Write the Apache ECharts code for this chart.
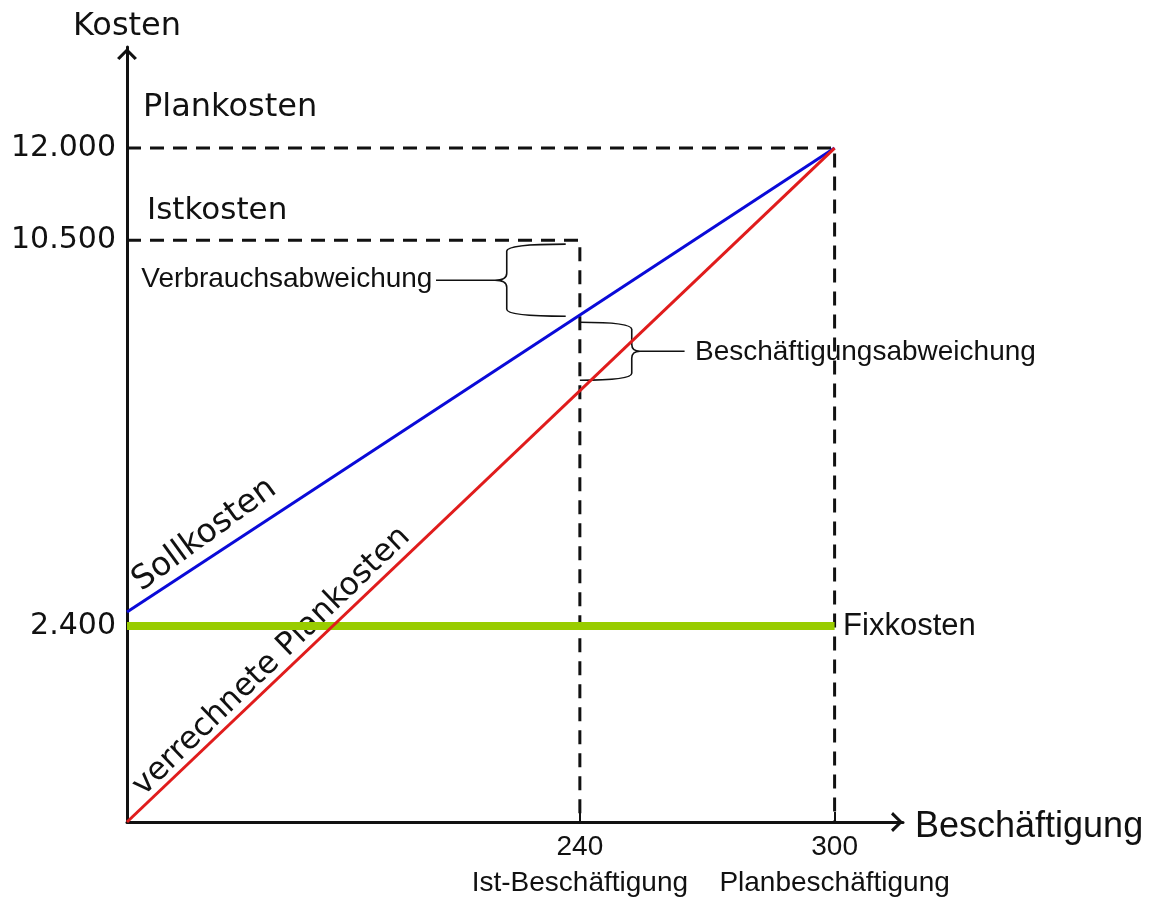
<!DOCTYPE html>
<html>
<head>
<meta charset="utf-8">
<title>Plankostenrechnung</title>
<script src="https://cdn.jsdelivr.net/npm/echarts@6/dist/echarts.min.js"></script>
<style>
html, body { margin: 0; padding: 0; background: #fff; }
#main { width: 1152px; height: 897px; }
</style>
</head>
<body>
<div id="main"></div>
<script>
// Skizze, nicht maßstäblich: Werte in Zeichnungseinheiten abgelesen
// (300 = Planbeschäftigung, 12000 = Plankosten), Beschriftung separat
var xTicks = [192, 300];
var xTickLabels = ['240', '300'];
var xTickNames = ['Ist-Beschäftigung', 'Planbeschäftigung'];
var yTicks = [3490, 10360, 12000];
var yTickLabels = ['2.400', '10.500', '12.000'];

var lineX = [0, 300];
var sollkosten = [3740, 12000];
var verrechnet = [0, 12000];
var fixkosten = [3490, 3490];

var planX = [0, 300, 300];
var planY = [12000, 12000, 0];
var istX = [0, 192, 192];
var istY = [10360, 10360, 0];

// Klammern: Armende, Rücken, Spitze, Linienende, oben, unten
var braces = [
	[186, 161, 156, 131, 10290, 9005],
	[192, 214, 217.5, 236.4, 8900, 7866]
];

function pairs(xs, ys) {
	return xs.map(function (x, i) { return [x, ys[i]]; });
}

var ink = '#111';
var chevron = 'path://M10,0 L20,10 L17.6,12 L10,4.2 L2.4,12 L0,10 Z';

var myChart = echarts.init(document.getElementById('main'));

var option = {
	animation: false,
	backgroundColor: '#fff',
	grid: { left: 127, right: 249, top: 47, bottom: 75, outerBoundsMode: 'none', containLabel: false },
	xAxis: {
		type: 'value',
		min: 0,
		max: 329,
		name: 'Beschäftigung',
		nameLocation: 'end',
		nameGap: 12,
		nameMoveOverlap: false,
		nameTextStyle: { fontFamily: 'Liberation Sans', fontSize: 36, color: ink, verticalAlign: 'top', lineHeight: 10 },
		splitLine: { show: false },
		axisLine: {
			lineStyle: { color: ink, width: 3 },
			symbol: ['none', chevron],
			symbolSize: [22, 12],
			symbolOffset: [0, -6]
		},
		axisTick: {
			customValues: xTicks,
			inside: true,
			length: 10,
			lineStyle: { color: ink, width: 2 }
		},
		axisLabel: {
			customValues: xTicks,
			margin: 7,
			formatter: function (v) {
				var i = xTicks.indexOf(v);
				return '{a|' + xTickLabels[i] + '}\n{a|' + xTickNames[i] + '}';
			},
			rich: {
				a: { fontFamily: 'Liberation Sans', fontSize: 28, lineHeight: 36, color: ink }
			}
		}
	},
	yAxis: {
		type: 'value',
		min: 0,
		max: 13800,
		name: 'Kosten',
		nameLocation: 'end',
		nameGap: 4,
		nameMoveOverlap: false,
		nameTextStyle: { fontFamily: 'DejaVu Sans', fontSize: 32, color: ink, align: 'center' },
		splitLine: { show: false },
		axisLine: {
			lineStyle: { color: ink, width: 3 },
			symbol: ['none', chevron],
			symbolSize: [20, 14],
			symbolOffset: [0, -7]
		},
		axisTick: { show: false },
		axisLabel: {
			customValues: yTicks,
			margin: 11,
			fontFamily: 'DejaVu Sans',
			fontSize: 30,
			color: ink,
			formatter: function (v) {
				return yTickLabels[yTicks.indexOf(v)];
			}
		}
	},
	series: [{
		type: 'line',
		silent: true,
		symbol: 'none',
		data: pairs(planX, planY),
		lineStyle: { color: ink, width: 3, type: [14, 9] }
	}, {
		type: 'line',
		silent: true,
		symbol: 'none',
		data: pairs(istX, istY),
		lineStyle: { color: ink, width: 3, type: [14, 9] }
	}, {
		type: 'line',
		silent: true,
		symbol: 'none',
		data: pairs(lineX, fixkosten),
		lineStyle: { color: '#99cc00', width: 8 }
	}, {
		type: 'line',
		silent: true,
		symbol: 'none',
		data: pairs(lineX, sollkosten),
		lineStyle: { color: '#0a0ad8', width: 3 }
	}, {
		type: 'line',
		silent: true,
		symbol: 'none',
		data: pairs(lineX, verrechnet),
		lineStyle: { color: '#e01c1c', width: 3 }
	}, {
		type: 'custom',
		silent: true,
		data: braces,
		renderItem: function (params, api) {
			var top = api.coord([api.value(0), api.value(4)]);
			var bot = api.coord([api.value(0), api.value(5)]);
			var s = api.coord([api.value(1), 0])[0];
			var t = api.coord([api.value(2), 0])[0];
			var l = api.coord([api.value(3), 0])[0];
			var ax = top[0], yt = top[1], yb = bot[1], ym = (yt + yb) / 2, r = 7;
			var d = 'M' + ax + ',' + yt +
				' Q' + s + ',' + yt + ' ' + s + ',' + (yt + r) +
				' L' + s + ',' + (ym - r) +
				' Q' + s + ',' + ym + ' ' + t + ',' + ym +
				' Q' + s + ',' + ym + ' ' + s + ',' + (ym + r) +
				' L' + s + ',' + (yb - r) +
				' Q' + s + ',' + yb + ' ' + ax + ',' + yb +
				' M' + t + ',' + ym + ' L' + l + ',' + ym;
			return {
				type: 'path',
				shape: { pathData: d },
				style: { stroke: ink, fill: 'none', lineWidth: 1.6 }
			};
		}
	}]
};

myChart.setOption(option);

// Beschriftungen an Achsenwerten festmachen
var notes = [
	{ text: 'Plankosten', at: [6.8, 12714], font: 'DejaVu Sans', size: 32, align: 'left', va: 'middle', rot: 0 },
	{ text: 'Istkosten', at: [8.5, 10880], font: 'DejaVu Sans', size: 31, align: 'left', va: 'middle', rot: 0 },
	{ text: 'Verbrauchsabweichung', at: [129.5, 9660], font: 'Liberation Sans', size: 28, align: 'right', va: 'middle', rot: 0 },
	{ text: 'Beschäftigungsabweichung', at: [240.8, 8369], font: 'Liberation Sans', size: 28, align: 'left', va: 'middle', rot: 0 },
	{ text: 'Fixkosten', at: [303.6, 3490], font: 'Liberation Sans', size: 31, align: 'left', va: 'middle', rot: 0 },
	{ text: 'Sollkosten', at: [8.0, 3990], font: 'DejaVu Sans', size: 33, align: 'left', va: 'bottom', rot: 36 },
	{ text: 'verrechnete Plankosten', at: [9.3, 356], font: 'DejaVu Sans', size: 31.5, align: 'left', va: 'bottom', rot: 44 }
];

myChart.setOption({
	graphic: notes.map(function (n) {
		var p = myChart.convertToPixel({ gridIndex: 0 }, n.at);
		return {
			type: 'text',
			x: p[0],
			y: p[1],
			rotation: n.rot * Math.PI / 180,
			silent: true,
			style: {
				text: n.text,
				fill: ink,
				fontFamily: n.font,
				fontSize: n.size,
				textAlign: n.align,
				textVerticalAlign: n.va
			}
		};
	})
});
</script>
</body>
</html>
